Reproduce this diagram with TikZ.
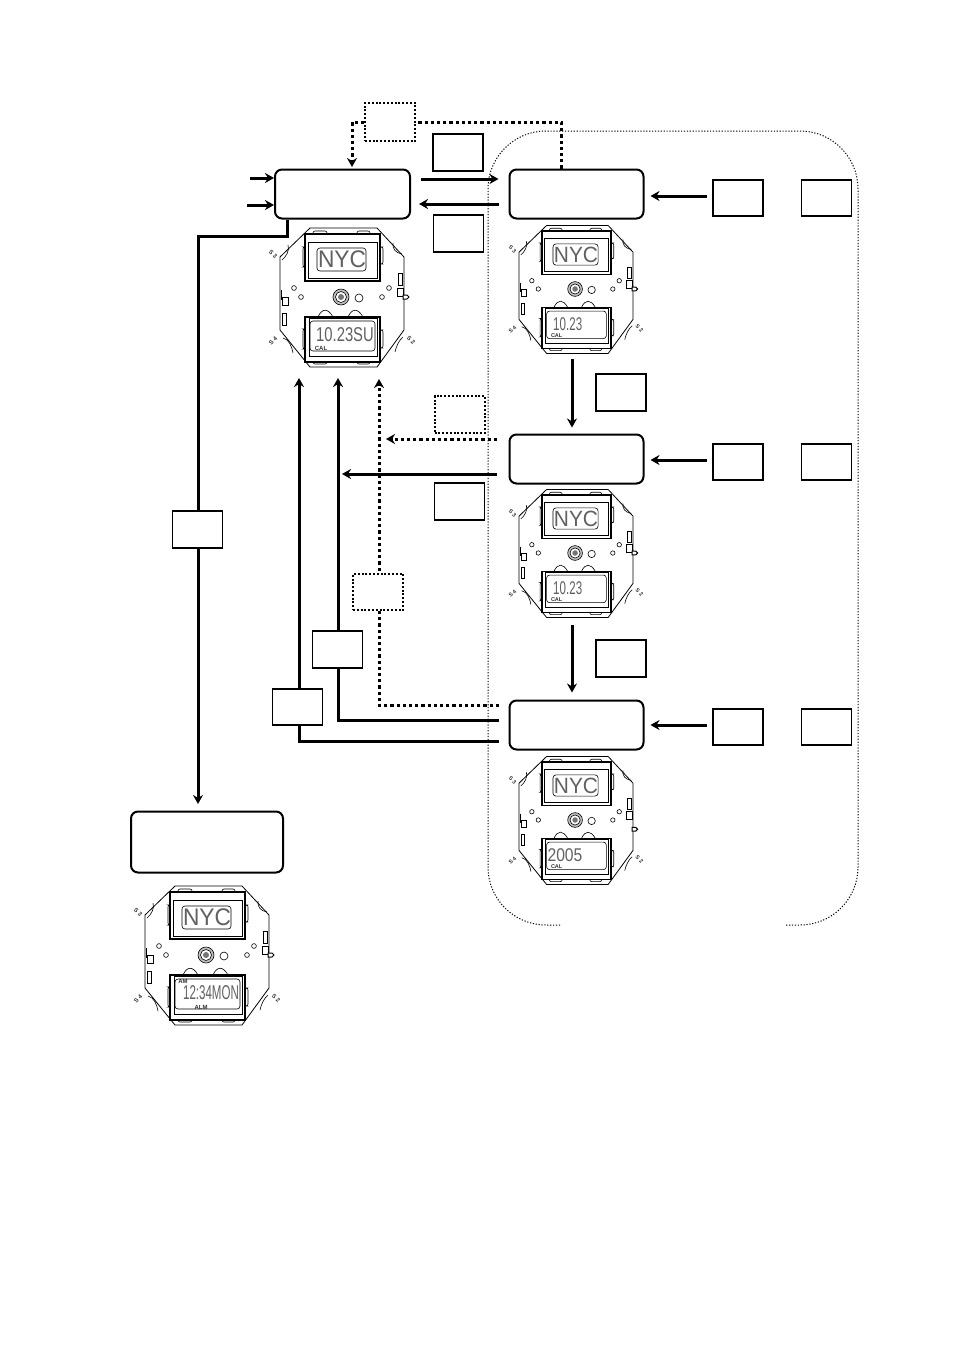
\documentclass[tikz,border=0pt]{standalone}
\usepackage{graphicx}
\usepackage{fontspec}
\setmainfont{Liberation Sans}
\usetikzlibrary{positioning,arrows.meta}
\tikzset{
  modebox/.style={draw, rounded corners=7pt, line width=2pt, fill=white},
  keybox/.style={draw, line width=1.9pt, fill=white, minimum width=50pt, minimum height=36pt, inner sep=0pt},
  dkeybox/.style={keybox, line width=2pt, dash pattern=on 2pt off 1.8pt},
  arr/.style={-{Stealth[length=9pt,width=10pt]}, line width=3pt},
  plainarr/.style={line width=3pt},
  darr/.style={arr, dash pattern=on 3.2pt off 3pt},
  part/.style={line width=.6pt},
  lcdtxt/.style={font=\fontsize{#1}{#1}\selectfont, text=black!62, transform shape, xscale=.74, inner sep=0pt},
  tag/.style={font=\fontsize{6}{6}\selectfont\bfseries, text=black!80, transform shape, inner sep=0pt},
  pics/movement/.style n args={4}{code={
    % case outline
    \draw[part, line width=.8pt] (-32,-69) -- (35,-69) -- (62,-40) -- (62,33) -- (35,70) -- (-32,70) -- (-62,33) -- (-62,-40) -- cycle;
    \draw[part] (-54,-52) .. controls (-52,-47) and (-56,-40) .. (-60,-37) (51,-54) .. controls (50,-48) and (54,-44) .. (60,-43);
    \draw[part] (-59,41) .. controls (-53,42) and (-50,50) .. (-49,56) (53,55) .. controls (54,50) and (57,43) .. (61,40);
    % upper display
    \draw[part, rounded corners=2pt] (-29,-66) rectangle (-15,-60) (15,-66) rectangle (28,-60);
    \draw[part, rounded corners=2pt] (-39,-50) rectangle (-37,-30) (38,-50) rectangle (41,-33);
    \draw[line width=1.3pt, fill=white] (-37,-63) rectangle (38,-16);
    \draw[line width=1pt] (-34,-55) rectangle (35,-19);
    \draw[part, rounded corners=3pt] (-25,-49) rectangle (24,-26);
    \node[lcdtxt=24, xscale=1.28] (-city) at (0,-37.5) {NYC};
    % middle part
    \draw[part, fill=black!25] (-1,0) circle (8);
    \draw[part, fill=white] (-1,0) circle (5.5);
    \fill[black!55] (-1,0) circle (3);
    \draw[part] (17,1) circle (4);
    \foreach \hx/\hy in {-48/-9,-41/0,47/-9,40/0} \draw[part] (\hx,\hy) circle (2.4);
    \draw[part] (56,-24) rectangle (60,-12) (55,-9) rectangle (61,-1);
    \draw[line width=1pt, fill=white] (61,#4-2) -- (65,#4-2) -- (67,#4) -- (65,#4+2) -- (61,#4+2) -- cycle;
    \draw[part] (-60,0) rectangle (-54,8) (-60,16) rectangle (-56,28) (-61,-7) -- (-61,3);
    \draw[part] (-24,20) .. controls (-20,11) and (-14,11) .. (-9,20) (6,20) .. controls (10,11) and (16,11) .. (21,20);
    % lower display
    \draw[part, rounded corners=2pt] (-39,32) rectangle (-37,52) (38,33) rectangle (41,51);
    \draw[part, rounded corners=2pt] (-29,61) rectangle (-15,67) (15,61) rectangle (28,67);
    \draw[line width=1.3pt, fill=white] (-37,20) rectangle (38,65);
    \draw[line width=1pt] (-33,21) -- (35,21) -- (35,59) -- (-33,59) -- cycle;
    \draw[part, rounded corners=3pt] (-32,24) rectangle (33,54);
    \node[lcdtxt=20] (-disp) at (#1,38) {#2};
    \node[tag] (-cal) at (-21,51) {#3};
    % button marks
    \node[tag, rotate=-45] (-s3) at (-69,-43) {S 3};
    \node[tag, rotate=45] (-s4) at (-69,44) {S 4};
    \node[tag, rotate=-45] (-s2) at (69,43) {S 2};
  }},
}
\begin{document}
\begin{tikzpicture}[x=1pt,y=-1pt]
  \useasboundingbox (0,0) rectangle (954,1350);

  % dotted enclosure, open at the bottom
  \draw[line width=1pt, dash pattern=on 1.2pt off 1.7pt, rounded corners=58pt]
    (560,925) -- (488,925) -- (488,131) -- (858,131) -- (858,925) -- (786,925);

  % mode boxes
  \node[modebox, minimum width=135pt, minimum height=49pt] (timebox) at (342.5,194) {};
  \node[modebox, minimum width=134pt, minimum height=49pt] (setA) at (576.5,194) {};
  \node[modebox, minimum width=134pt, minimum height=49pt] (setB) at (576.5,459) {};
  \node[modebox, minimum width=134pt, minimum height=49pt] (setC) at (576.5,725) {};
  \node[modebox, minimum width=152pt, minimum height=61pt] (alarmbox) at (207,842) {};

  % levels and free ends
  \coordinate (inA) at (250,178); \coordinate (inB) at (247,205);
  \coordinate (lvA) at (0,179); \coordinate (lvB) at (0,204);
  \coordinate (dotA) at (561,123); \coordinate (dotB) at (352,167);
  \coordinate (bendA) at (287,236); \coordinate (tipA) at (198,804);
  \coordinate (upA) at (386,439); \coordinate (upB) at (342,474);
  \coordinate (retA) at (379,379); \coordinate (retB) at (338,378); \coordinate (retC) at (299,378);
  \coordinate (lvC) at (497,439); \coordinate (lvD) at (497,474);
  \coordinate (lvE) at (499,705); \coordinate (lvF) at (499,720); \coordinate (lvG) at (499,741);
  \coordinate (dnA) at (572,359); \coordinate (dnB) at (572,625);
  \coordinate (kyA) at (707,196); \coordinate (kyB) at (707,460); \coordinate (kyC) at (707,725);

  % connectors
  \draw[arr] (inA) -- (timebox.west |- inA);
  \draw[arr] (inB) -- (timebox.west |- inB);
  \draw[arr, shorten <=10pt, shorten >=10pt] (timebox.east |- lvA) -- (setA.west |- lvA);
  \draw[arr, shorten <=10pt, shorten >=8pt] (setA.west |- lvB) -- (timebox.east |- lvB);
  \draw[arr] (timebox.south -| bendA) -- (bendA) -| (tipA);
  \draw[darr] (lvC) -- (upA);
  \draw[arr] (lvD) -- (upB);
  \draw[darr] (lvE) -| (retA);
  \draw[arr] (lvF) -| (retB);
  \draw[arr] (lvG) -| (retC);
  \draw[arr, shorten >=6pt] (dnA) -- (setB.north -| dnA);
  \draw[arr, shorten >=7pt] (dnB) -- (setC.north -| dnB);
  \draw[arr, shorten >=6pt] (kyA) -- (setA.east |- kyA);
  \draw[arr, shorten >=6pt] (kyB) -- (setB.east |- kyB);
  \draw[arr, shorten >=6pt] (kyC) -- (setC.east |- kyC);

  % key boxes
  \node[dkeybox, minimum height=38pt] (keyLight) at (390,122) {};
  \node[keybox, minimum height=37pt] (keyA) at (458,152.5) {};
  \node[keybox, minimum height=37pt] (keyB) at (458.5,233.5) {};
  \node[keybox] (keyC) at (738,198) {}; \node[keybox] (keyD) at (826.5,198) {};
  \node[keybox] (keyE) at (738,462) {}; \node[keybox] (keyF) at (826.5,462) {};
  \node[keybox] (keyG) at (738,727) {}; \node[keybox] (keyH) at (826.5,727) {};
  \node[keybox, minimum height=37pt] (keyI) at (621,392.5) {};
  \node[keybox, minimum height=37pt] (keyJ) at (621,658.5) {};
  \node[dkeybox, minimum height=37pt] (keyK) at (459.5,414.5) {};
  \node[keybox, minimum height=37pt] (keyL) at (459.5,501.5) {};
  \node[keybox, minimum height=37pt] (keyM) at (197.5,529.5) {};
  \node[dkeybox, minimum height=36pt] (keyN) at (378,592) {};
  \node[keybox, minimum height=37pt] (keyO) at (337.5,649.5) {};
  \node[keybox, minimum height=36pt] (keyP) at (297.5,707) {};

  % dotted light path
  \draw[plainarr, dash pattern=on 3.2pt off 3pt] (setA.north -| dotA) |- (keyLight.east);
  \draw[darr] (keyLight.west) -| (dotB);

  % movements
  \pic (wtime) at (342,297) {movement={3}{10.23SU}{CAL}{0}};
  \pic[scale=.92] (wsetA) at (576,289) {movement={-9}{\scalebox{.85}[1]{10.23}}{CAL}{0}};
  \pic[scale=.92] (wsetB) at (576,553) {movement={-9}{\scalebox{.85}[1]{10.23}}{CAL}{0}};
  \pic[scale=.92] (wsetC) at (576,820) {movement={-12}{\scalebox{1.15}[1]{2005}}{CAL}{10}};
  \pic (walarm) at (207,955) {movement={4}{\scalebox{.78}[1]{12:34MON}}{}{0}};
  \node[tag] (tagAM) at (183,981) {AM};
  \node[tag] (tagALM) at (201,1007) {ALM};
\end{tikzpicture}
\end{document}
